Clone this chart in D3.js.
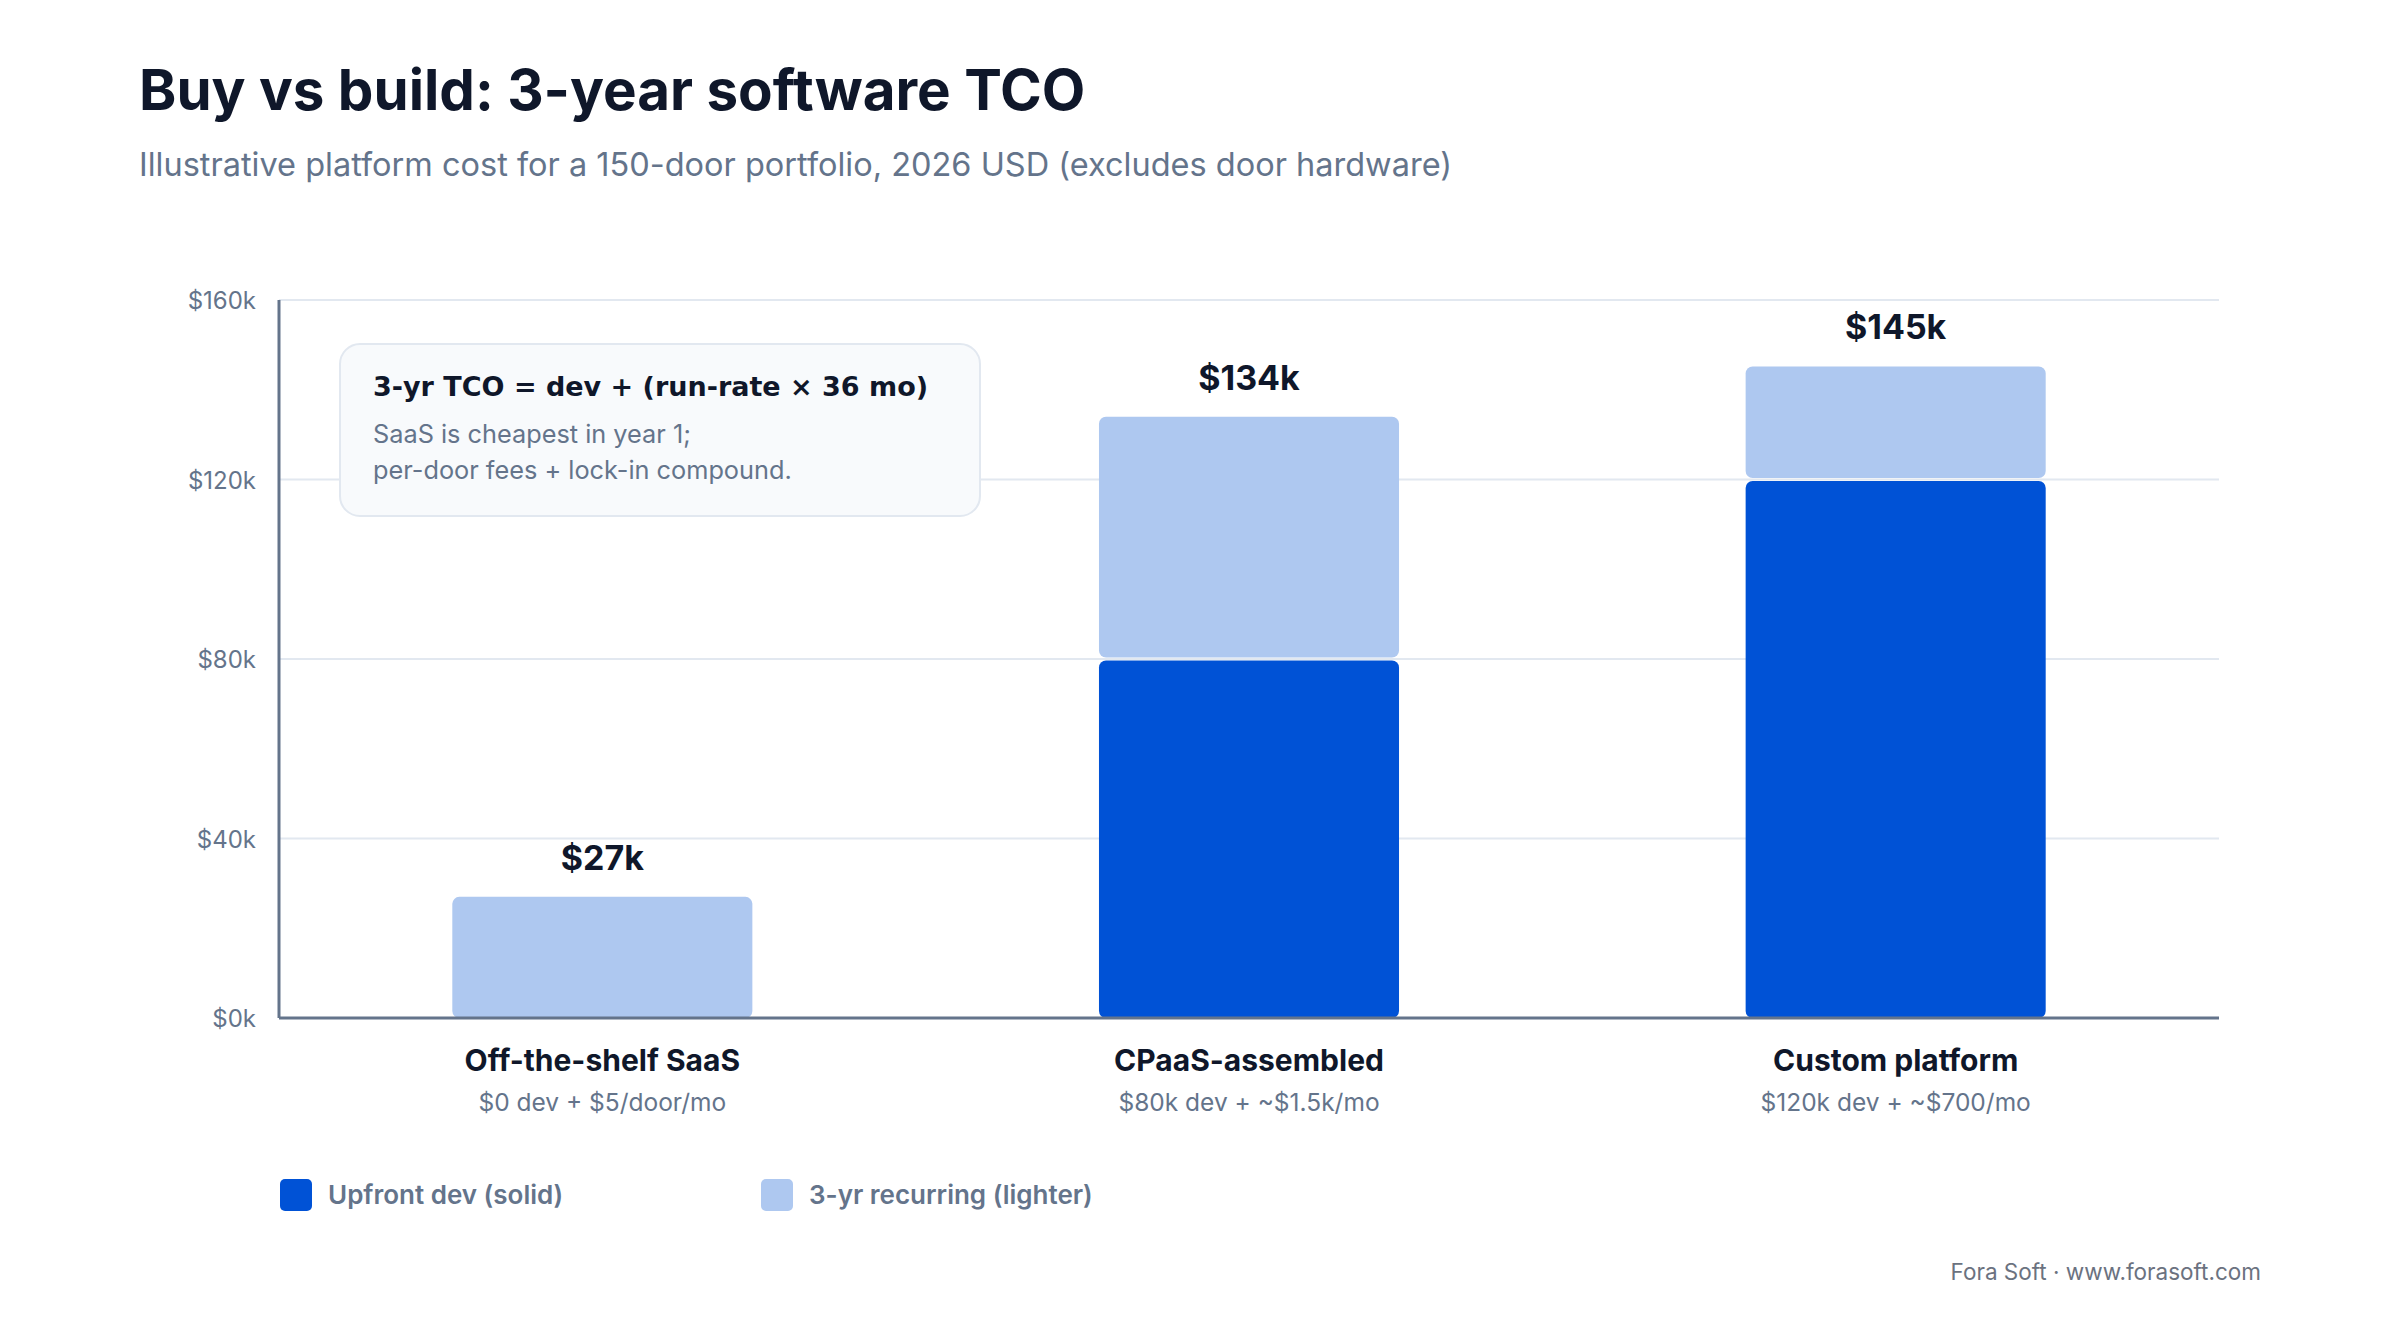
<!DOCTYPE html>
<html>
<head>
<meta charset="utf-8">
<script src="https://cdn.jsdelivr.net/npm/d3@7"></script>
<style>
  html, body { margin: 0; padding: 0; background: #ffffff; }
  text { font-family: Inter, "Noto Sans", sans-serif; }
</style>
</head>
<body>
<div id="chart"></div>
<script>
// chart data
var categories = ["Off-the-shelf SaaS", "CPaaS-assembled", "Custom platform"];
var subLabels = ["$0 dev + $5/door/mo", "$80k dev + ~$1.5k/mo", "$120k dev + ~$700/mo"];
var upfrontDev = [0, 80000, 120000];
var recurring3yr = [27000, 54000, 25200];
var totalLabels = ["$27k", "$134k", "$145k"];
var yTicks = [0, 40000, 80000, 120000, 160000];
var seriesNames = ["Upfront dev (solid)", "3-yr recurring (lighter)"];

var W = 2400, H = 1320;
var margin = {top: 300, right: 181, bottom: 302, left: 279},
    width = W - margin.left - margin.right,
    height = H - margin.top - margin.bottom;

var colDark = "#0052d6", colLight = "#aec8f0";
var ink = "#0f172a", slate = "#64748b";

var svg = d3.select("#chart").append("svg")
    .attr("width", W)
    .attr("height", H);

// title
svg.append("text")
    .attr("x", 139).attr("y", 110)
    .style("font-size", "56.5px").style("font-weight", 700)
    .attr("fill", ink)
    .text("Buy vs build: 3-year software TCO");
svg.append("text")
    .attr("x", 139).attr("y", 176)
    .style("font-size", "32.5px")
    .attr("fill", slate)
    .text("Illustrative platform cost for a 150-door portfolio, 2026 USD (excludes door hardware)");

var g = svg.append("g")
    .attr("transform", "translate(" + margin.left + "," + margin.top + ")");

var x = d3.scaleBand().domain(categories).range([0, width])
    .paddingInner(0.536).paddingOuter(0.268);
var y = d3.scaleLinear().domain([0, 160000]).range([height, 0]);

// gridlines
g.selectAll(".grid").data(yTicks.slice(1)).enter().append("line")
    .attr("x1", 0).attr("x2", width)
    .attr("y1", function(d) { return y(d); })
    .attr("y2", function(d) { return y(d); })
    .attr("stroke", "#e2e8f0").attr("stroke-width", 2);

// y axis labels
g.selectAll(".ytick").data(yTicks).enter().append("text")
    .attr("x", -23)
    .attr("y", function(d) { return y(d) + 9; })
    .attr("text-anchor", "end")
    .style("font-size", "24px")
    .attr("fill", slate)
    .text(function(d) { return "$" + (d / 1000) + "k"; });

// annotation box
var note = g.append("g").attr("transform", "translate(61,44)");
note.append("rect")
    .attr("width", 640).attr("height", 172)
    .attr("rx", 20)
    .attr("fill", "#f8fafc").attr("stroke", "#e2e8f0").attr("stroke-width", 2);
note.append("text")
    .attr("x", 33).attr("y", 52)
    .style("font-family", "'DejaVu Sans', sans-serif")
    .style("font-size", "27px").style("font-weight", 700)
    .attr("fill", ink)
    .text("3-yr TCO = dev + (run-rate \u00d7 36 mo)");
note.append("text")
    .attr("x", 33).attr("y", 99)
    .style("font-size", "25.3px")
    .attr("fill", slate)
    .text("SaaS is cheapest in year 1;");
note.append("text")
    .attr("x", 33).attr("y", 135)
    .style("font-size", "25.3px")
    .attr("fill", slate)
    .text("per-door fees + lock-in compound.");

// stacked bars
var rows = categories.map(function(c, i) {
    return {name: c, dev: upfrontDev[i], rec: recurring3yr[i]};
});
var stack = d3.stack().keys(["dev", "rec"])(rows);
var z = d3.scaleOrdinal().domain(["dev", "rec"]).range([colDark, colLight]);
var gap = 1.5;

g.selectAll(".series").data(stack).enter().append("g")
    .attr("fill", function(d) { return z(d.key); })
    .selectAll("rect")
    .data(function(d) { return d.filter(function(s) { return s[1] - s[0] > 0; }); })
    .enter().append("rect")
    .attr("x", function(d) { return x(d.data.name); })
    .attr("width", x.bandwidth())
    .attr("y", function(d) { return y(d[1]) + (d[1] < d.data.dev + d.data.rec ? gap : 0); })
    .attr("height", function(d) {
        var h = y(d[0]) - y(d[1]);
        var top = d[1] < d.data.dev + d.data.rec ? gap : 0;
        var bot = d[0] > 0 ? gap : 0;
        return h - top - bot;
    })
    .attr("rx", 7);

// total labels
g.selectAll(".total").data(rows).enter().append("text")
    .attr("x", function(d) { return x(d.name) + x.bandwidth() / 2; })
    .attr("y", function(d) { return y(d.dev + d.rec) - 27; })
    .attr("text-anchor", "middle")
    .style("font-size", "34px").style("font-weight", 700)
    .attr("fill", ink)
    .text(function(d, i) { return totalLabels[i]; });

// axes lines
g.append("line")
    .attr("x1", 0).attr("x2", 0).attr("y1", 0).attr("y2", height)
    .attr("stroke", slate).attr("stroke-width", 3);
g.append("line")
    .attr("x1", 0).attr("x2", width).attr("y1", height).attr("y2", height)
    .attr("stroke", slate).attr("stroke-width", 3);

// category labels
g.selectAll(".cat").data(categories).enter().append("text")
    .attr("x", function(d) { return x(d) + x.bandwidth() / 2; })
    .attr("y", height + 53)
    .attr("text-anchor", "middle")
    .style("font-size", "30px").style("font-weight", 700)
    .attr("fill", ink)
    .text(function(d) { return d; });
g.selectAll(".sub").data(subLabels).enter().append("text")
    .attr("x", function(d, i) { return x(categories[i]) + x.bandwidth() / 2; })
    .attr("y", height + 93)
    .attr("text-anchor", "middle")
    .style("font-size", "24.5px")
    .attr("fill", slate)
    .text(function(d) { return d; });

// legend
var legX = [280, 761];
var leg = svg.selectAll(".legend").data(seriesNames).enter().append("g")
    .attr("transform", function(d, i) { return "translate(" + legX[i] + ",1179)"; });
leg.append("rect")
    .attr("width", 32).attr("height", 32).attr("rx", 5)
    .attr("fill", function(d, i) { return i == 0 ? colDark : colLight; });
leg.append("text")
    .attr("x", 48).attr("y", 25)
    .style("font-size", "26px").style("font-weight", 600)
    .attr("fill", slate)
    .text(function(d) { return d; });

// footer
svg.append("text")
    .attr("x", 2261).attr("y", 1280)
    .attr("text-anchor", "end")
    .style("font-size", "22.5px")
    .attr("fill", "#6b7280")
    .text("Fora Soft \u00b7 www.forasoft.com");
</script>
</body>
</html>
